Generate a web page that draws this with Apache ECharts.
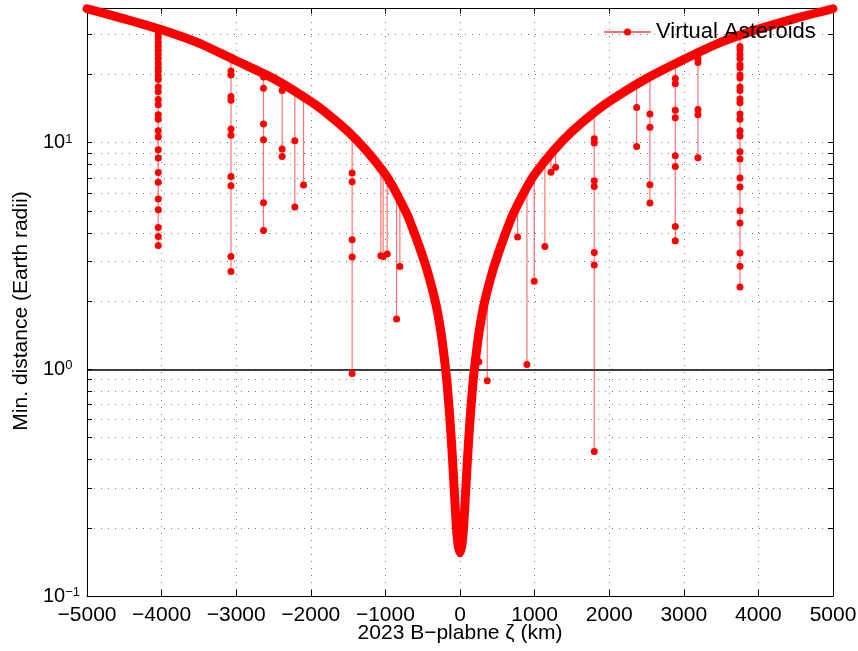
<!DOCTYPE html>
<html><head><meta charset="utf-8">
<script src="https://cdn.jsdelivr.net/npm/echarts@6/dist/echarts.min.js"></script>
<style>html,body{margin:0;padding:0;background:#fff}#c{width:858px;height:651px}</style>
</head><body><div id="c"></div>
<script>
// Envelope curve of the virtual asteroids
const curveZeta = [-5000,-4500,-4000,-3500,-3000,-2500,-2000,-1750,-1500,-1250,
  -1000,-900,-800,-700,-600,-500,-450,-400,-350,-300,
  -250,-200,-175,-150,-125,-100,-75,-50,-25,0,
  25,50,75,100,125,150,175,200,250,300,
  350,400,450,500,600,700,800,900,1000,1250,
  1500,1750,2000,2500,3000,3500,4000,4500,5000];
const curveDist = [39.0,35.2,31.5,27.5,23.0,19.2,15.2,13.2,11.2,9.2,
  7.25,6.4,5.55,4.75,3.9,3.15,2.8,2.45,2.12,1.78,
  1.42,1.05,0.88,0.70,0.54,0.40,0.285,0.205,0.168,0.155,
  0.168,0.205,0.285,0.40,0.54,0.70,0.88,1.05,1.42,1.78,
  2.12,2.45,2.8,3.15,3.9,4.75,5.55,6.4,7.25,9.2,
  11.2,13.2,15.2,19.2,23.3,27.8,31.7,35.4,39.0];

// Vertical clusters of virtual asteroids: zeta position and distances (first = top on curve)
const spikeZeta = [-4045,-3070,-2634,-2384,-2214,-2097,-1446,-1061,-1030,-976,-850,-806,
  253,365,772,897,995,1138,1219,1282,1800,2368,2546,2886,3190,3753];
const spikeDist = [
  [31.8,30.0,29.0,27.7,26.6,25.6,24.5,23.5,22.5,21.4,20.7,19.8,19.0,17.6,16.8,15.5,14.7,13.3,12.7,11.3,10.6,9.3,8.56,7.39,6.70,5.64,5.06,4.23,3.86,3.52],
  [23.6,20.7,19.9,16.0,15.4,11.5,10.8,7.1,6.46,3.15,2.70],
  [20.2,19.5,17.4,12.1,10.3,5.44,4.10],
  [18.3,17.0,9.38,8.7],
  [16.9,10.2,5.2],
  [16.0,6.5],
  [10.8,7.35,6.73,3.73,3.13,0.96],
  [7.7,3.17],
  [7.5,3.15],
  [7.05,3.23],
  [6.0,1.67],
  [5.6,2.84],
  [1.44,1.08],
  [2.2,0.89],
  [5.3,3.84],
  [6.4,1.05],
  [7.2,2.45],
  [8.3,3.48],
  [8.95,7.4],
  [9.45,7.8],
  [13.6,10.4,9.97,6.79,6.41,3.28,2.89,0.434],
  [18.1,14.3,9.63],
  [19.6,13.4,11.7,6.53,5.42],
  [22.1,19.2,18.2,13.9,12.9,8.77,7.86,4.27,3.69],
  [24.6,23.4,22.6,14.0,13.3,8.59],
  [29.7,26.6,25.8,24.5,23.5,22.1,21.4,19.9,19.3,17.6,17.0,15.6,15.0,13.4,12.7,11.3,10.7,9.13,8.47,6.98,6.37,5.01,4.42,3.26,2.85,2.31]
];

// Axis ticks
const yTicks = [0.1,0.2,0.3,0.4,0.5,0.6,0.7,0.8,0.9,1,2,3,4,5,6,7,8,9,10,20,30];
const yLabelTicks = [0.1,1,10];
const earthRadiusLine = 1;
const seriesName = 'Virtual Asteroids';

const FONT = '"Liberation Sans", Arial, Helvetica, sans-serif';
const gridLine = {show:true, lineStyle:{color:'#777', width:1, type:[1,6]}};

const yLabelFmt = v => {
  const e = Math.round(Math.log10(v));
  return '{b|10}{s|' + (e < 0 ? '\u2212' : '') + Math.abs(e) + '}';
};

const yBase = {
  type:'log', logBase:10, min:0.1, max:39.3,
  axisLine:{show:true, onZero:false, lineStyle:{color:'#000', width:1}},
  axisTick:{show:true, inside:true, length:5, customValues:yTicks, lineStyle:{color:'#000'}},
  minorTick:{show:false}
};

const series = [];
spikeZeta.forEach((z, i) => {
  series.push({
    name: seriesName, type:'line',
    data: spikeDist[i].map(d => [z, d]),
    symbol:'circle', symbolSize:7, showSymbol:true,
    lineStyle:{color:'rgba(255,0,0,0.55)', width:1.2},
    itemStyle:{color:'#ff0000'},
    z:4, clip:false, silent:true, animation:false
  });
});
series.push({
  name:'curve', type:'line',
  data: curveZeta.map((z, i) => [z, curveDist[i]]),
  showSymbol:false, symbol:'none', smooth:0.25,
  lineStyle:{color:'#ff0000', width:9, cap:'round', join:'round'},
  z:3, clip:false, silent:true, animation:false,
  markLine:{
    silent:true, z:1, symbol:['none','none'], animation:false,
    label:{show:false},
    lineStyle:{color:'#000', width:1.5, type:'solid'},
    data:[{yAxis: earthRadiusLine}]
  }
});

const option = {
  animation:false,
  backgroundColor:'#fff',
  grid:{left:87, right:25, top:8, bottom:55, containLabel:false, outerBoundsMode:'none'},
  legend:{
    data:[seriesName], left:603, top:21, padding:0,
    itemWidth:47, itemHeight:9, itemGap:5, selectedMode:false,
    textStyle:{fontSize:22, fontFamily:FONT, color:'#000'}
  },
  xAxis:[{
    type:'value', position:'bottom', min:-5000, max:5000, interval:1000,
    axisLine:{show:true, onZero:false, lineStyle:{color:'#000', width:1}},
    axisTick:{show:true, inside:true, length:6, lineStyle:{color:'#000'}},
    axisLabel:{margin:9, fontSize:21, fontFamily:FONT, color:'#000',
      formatter: v => String(v).replace('-', '\u2212')},
    splitLine: gridLine,
    name:'2023 B\u2212plabne \u03b6 (km)', nameLocation:'middle', nameGap:27, nameMoveOverlap:false,
    nameTextStyle:{fontSize:21, fontFamily:FONT, color:'#000'}
  },{
    type:'value', position:'top', min:-5000, max:5000, interval:1000,
    axisLine:{show:true, onZero:false, lineStyle:{color:'#000', width:1}},
    axisTick:{show:true, inside:true, length:6, lineStyle:{color:'#000'}},
    axisLabel:{show:false}, splitLine:{show:false}
  }],
  yAxis:[Object.assign({}, yBase, {
    position:'left',
    axisLabel:{show:true, customValues:yLabelTicks, align:'left', margin:44,
      formatter:yLabelFmt,
      rich:{
        b:{fontSize:20, fontFamily:FONT, color:'#000', lineHeight:20, verticalAlign:'middle'},
        s:{fontSize:13, fontFamily:FONT, color:'#000', lineHeight:13, verticalAlign:'top'}
      }},
    splitLine: gridLine,
    name:'Min. distance (Earth radii)', nameLocation:'middle', nameGap:55, nameRotate:90, nameMoveOverlap:false,
    nameTextStyle:{fontSize:21, fontFamily:FONT, color:'#000', padding:[0,18,0,0]}
  }), Object.assign({}, yBase, {
    position:'right',
    axisLabel:{show:false}, splitLine:{show:false}
  })],
  series: series
};

const chart = echarts.init(document.getElementById('c'), null, {renderer:'canvas'});
chart.setOption(option);
</script>
</body></html>
